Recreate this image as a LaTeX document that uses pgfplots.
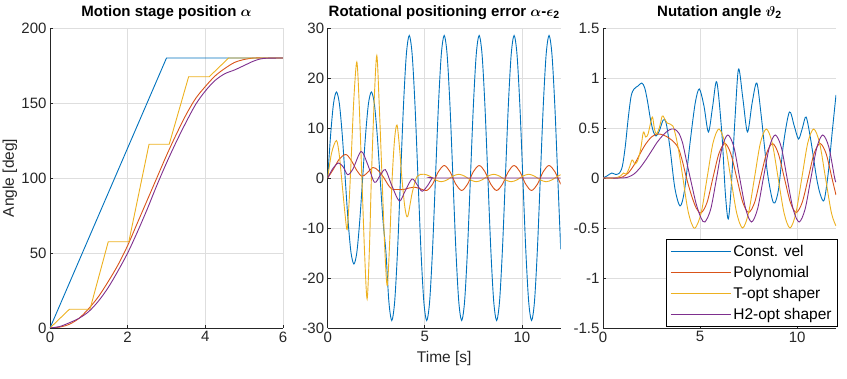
\documentclass[border=0pt]{standalone}
\usepackage{fontspec}
\setmainfont{Liberation Sans}
\usepackage{pgfplots}
\pgfplotsset{compat=1.18}

\definecolor{mlblue}{rgb}{0,0.447,0.741}
\definecolor{mlred}{rgb}{0.85,0.325,0.098}
\definecolor{mlyellow}{rgb}{0.929,0.694,0.125}
\definecolor{mlpurple}{rgb}{0.494,0.184,0.556}
\definecolor{axgray}{rgb}{0.15,0.15,0.15}
\definecolor{gridgray}{rgb}{0.87,0.87,0.87}

\pgfplotsset{
  matlabaxis/.style={
    scale only axis, width=233pt, height=300pt,
    axis x line*=bottom, axis y line*=left,
    axis line style={draw=axgray, line width=0.6pt},
    grid=major, major grid style={draw=gridgray, line width=0.6pt},
    tick align=inside, major tick length=3pt,
    tick style={draw=axgray, line width=0.6pt},
    tick label style={font=\fontsize{15}{18}\selectfont, text=axgray},
    /pgf/number format/assume math mode=true,
    title style={font=\fontsize{15}{18}\selectfont\bfseries, yshift=-1pt},
    xlabel style={font=\fontsize{15.5}{18}\selectfont, text=axgray},
    ylabel style={font=\fontsize{15.5}{18}\selectfont, text=axgray},
    every axis plot/.append style={line width=0.9pt},
  }
}

\begin{document}
\begin{tikzpicture}
% --- alpha
\begin{axis}[matlabaxis,
  title={Motion stage position {\boldmath$\alpha$}},
  xmin=0, xmax=6, ymin=0, ymax=200,
  xtick={0,2,4,6}, ytick={0,50,100,150,200},
  ylabel={Angle [deg]},
  ylabel style={at={(axis description cs:-0.172,0.5)}, anchor=center},
]
\addplot[color=mlblue] coordinates {(0,0) (3,180) (6,180)};
\addplot[color=mlred, smooth] coordinates {(0,0) (0.25,0.6) (0.5,2.5) (0.75,6.5) (1,13) (1.25,21) (1.5,31) (1.75,42) (2,55) (2.25,70) (2.5,85) (2.75,100) (3,115) (3.25,129) (3.5,142) (3.75,153) (4,161) (4.25,168) (4.5,173) (4.75,177) (5,179) (5.25,180) (5.5,180) (6,180)};
\addplot[color=mlyellow] coordinates {(0,0) (0.5,12.5) (1.03,12.5) (1.5,57.5) (2.03,57.5) (2.55,122.5) (3.07,122.5) (3.57,167.5) (4.1,167.5) (4.6,180) (6,180)};
\addplot[color=mlpurple, smooth] coordinates {(0,0) (0.25,1) (0.5,3.5) (0.75,6.5) (1,11) (1.25,18) (1.5,27) (1.75,38) (2,50) (2.25,64) (2.5,79) (2.75,95) (3,110) (3.25,124) (3.5,137) (3.75,149) (4,158) (4.25,165) (4.5,169.5) (4.75,172) (5,175) (5.25,178) (5.5,179.7) (6,180)};
\end{axis}

% --- alpha - epsilon
\begin{axis}[matlabaxis, at={(277.7pt,0pt)},
  title={Rotational positioning error {\boldmath$\alpha$}-{\boldmath$\epsilon$}\textsubscript{2}},
  xmin=0, xmax=12, ymin=-30, ymax=30,
  xtick={0,5,10}, ytick={-30,-20,-10,0,10,20,30},
  xlabel={Time [s]},
  xlabel style={at={(axis description cs:0.5,-0.1)}, anchor=center},
]
\addplot[color=mlblue, smooth] coordinates {(0,0) (0.15,8.6) (0.3,14.9) (0.45,17.2) (0.6,14.9) (0.75,8.6) (0.9,0) (1.05,-8.6) (1.2,-14.9) (1.35,-17.2) (1.5,-14.9) (1.65,-8.6) (1.8,0) (1.95,8.6) (2.1,14.9) (2.25,17.2) (2.4,14.9) (2.55,8.6) (2.7,0) (2.85,-8.6) (3.0,-14.9)
 (3.15,-24.7) (3.3,-28.5) (3.45,-24.7) (3.6,-14.25) (3.75,0) (3.9,14.25) (4.05,24.7) (4.2,28.5) (4.35,24.7) (4.5,14.25) (4.65,0) (4.8,-14.25) (4.95,-24.7)
 (5.1,-28.5) (5.25,-24.7) (5.4,-14.25) (5.55,0) (5.7,14.25) (5.85,24.7) (6.0,28.5) (6.15,24.7) (6.3,14.25) (6.45,0) (6.6,-14.25) (6.75,-24.7)
 (6.9,-28.5) (7.05,-24.7) (7.2,-14.25) (7.35,0) (7.5,14.25) (7.65,24.7) (7.8,28.5) (7.95,24.7) (8.1,14.25) (8.25,0) (8.4,-14.25) (8.55,-24.7)
 (8.7,-28.5) (8.85,-24.7) (9.0,-14.25) (9.15,0) (9.3,14.25) (9.45,24.7) (9.6,28.5) (9.75,24.7) (9.9,14.25) (10.05,0) (10.2,-14.25) (10.35,-24.7)
 (10.5,-28.5) (10.65,-24.7) (10.8,-14.25) (10.95,0) (11.1,14.25) (11.25,24.7) (11.4,28.5) (11.55,24.7) (11.7,14.25) (11.85,0) (12.0,-14.25)};
\addplot[color=mlred, smooth] coordinates {(0,0) (0.3,1.8) (0.6,3.8) (0.93,4.7) (1.2,3.6) (1.5,1.5) (1.76,0.35) (2.0,0.9) (2.33,2.1) (2.6,1.5) (2.9,0) (3.1,-1.3) (3.3,-2.2) (3.6,-2.3) (3.9,-2.3) (4.2,-2.0) (4.5,-1.85) (4.8,-2.2)
 (5.1,-2.5) (5.4,-1.25) (5.7,1.25) (6.0,2.5) (6.3,1.25) (6.6,-1.25) (6.9,-2.5) (7.2,-1.25) (7.5,1.25) (7.8,2.5) (8.1,1.25) (8.4,-1.25) (8.7,-2.5) (9.0,-1.25) (9.3,1.25) (9.6,2.5) (9.9,1.25) (10.2,-1.25) (10.5,-2.5) (10.8,-1.25) (11.1,1.25) (11.4,2.5) (11.7,1.25) (12.0,-1.25)};
\addplot[color=mlyellow, smooth] coordinates {(0,0) (0.2,5.0) (0.45,7.5) (0.6,4.5) (0.75,-1.5) (0.9,-7.5) (1.0,-10.3) (1.1,-5) (1.2,3) (1.35,16) (1.5,23.2) (1.62,15) (1.76,0) (1.9,-15) (2.03,-24.2) (2.15,-14) (2.25,0) (2.4,16) (2.53,24.5) (2.65,15) (2.8,0) (2.95,-15) (3.07,-21.5) (3.2,-12) (3.32,0) (3.45,8) (3.57,10.6) (3.7,6) (3.82,0) (3.98,-6) (4.12,-7.7) (4.35,-3.0) (4.6,0.3)
 (4.95,0.75) (5.25,0.375) (5.55,-0.375) (5.85,-0.75) (6.15,-0.375) (6.45,0.375) (6.75,0.75) (7.05,0.375) (7.35,-0.375) (7.65,-0.75) (7.95,-0.375) (8.25,0.375) (8.55,0.75) (8.85,0.375) (9.15,-0.375) (9.45,-0.75) (9.75,-0.375) (10.05,0.375) (10.35,0.75) (10.65,0.375) (10.95,-0.375) (11.25,-0.75) (11.55,-0.375) (11.85,0.375) (12.0,0.65)};
\addplot[color=mlpurple, smooth] coordinates {(0,0) (0.25,1.8) (0.55,3.0) (0.8,2.2) (1.03,0.66) (1.3,1.8) (1.72,5.3) (2.05,2.8) (2.41,-0.86) (2.7,0.5) (2.97,1.66) (3.3,-1.5) (3.69,-4.6) (4.0,-2.5) (4.34,-0.2) (4.6,-1.3) (4.86,-2.65) (5.15,-1.5) (5.4,0) (5.7,0) (12,0)};
\end{axis}

% --- nutation
\begin{axis}[matlabaxis, at={(553pt,0pt)},
  title={Nutation angle {\boldmath$\vartheta$}\textsubscript{2}},
  xmin=0, xmax=12, ymin=-1.5, ymax=1.5,
  xtick={0,5,10}, ytick={-1.5,-1,-0.5,0,0.5,1,1.5},
  legend style={at={(1.008,0.003)}, anchor=south east, draw=black, line width=0.6pt,
    font=\fontsize{15.5}{18}\selectfont, inner xsep=4pt, inner ysep=3.5pt,
    row sep=4.5pt},
  legend cell align=left,
  legend image code/.code={\draw[#1] (0pt,0pt) -- (60pt,0pt);},
]
\addplot[color=mlblue, smooth] coordinates {(0,0) (0.2,0.02) (0.45,0.05) (0.65,0.035) (0.85,0.05) (1.0,0.12) (1.15,0.32) (1.3,0.6) (1.45,0.82) (1.6,0.89) (1.8,0.92) (2.0,0.95) (2.15,0.9) (2.3,0.76) (2.45,0.58) (2.6,0.46) (2.73,0.42) (2.9,0.47) (3.1,0.58) (3.25,0.55) (3.45,0.3) (3.7,-0.1) (3.97,-0.28) (4.2,-0.12) (4.5,0.38) (4.75,0.75) (4.96,0.89) (5.2,0.72) (5.43,0.46) (5.65,0.72) (5.86,0.96) (6.12,0.45) (6.3,-0.15) (6.45,-0.41) (6.6,-0.1) (6.8,0.6) (6.98,1.09) (7.2,0.8) (7.44,0.46) (7.68,0.75) (7.92,0.95) (8.15,0.62) (8.45,0.08) (8.7,-0.2) (8.85,-0.25) (9.05,-0.1) (9.3,0.35) (9.6,0.66) (9.85,0.52) (10.07,0.39) (10.27,0.5) (10.46,0.61) (10.7,0.38) (11.0,0.0) (11.2,-0.17) (11.39,-0.22) (11.6,0.05) (11.8,0.45) (12.0,0.83)};
\addlegendentry{Const. vel}
\addplot[color=mlred, smooth] coordinates {(0,0) (0.8,0) (1.0,0.01) (1.3,0.05) (1.6,0.13) (1.9,0.24) (2.2,0.34) (2.5,0.41) (2.8,0.44) (3.1,0.43) (3.4,0.4) (3.7,0.35) (3.9,0.29) (4.1,0.16) (4.3,0.0) (4.55,-0.17) (4.8,-0.3) (5.05,-0.35) (5.36,-0.244) (5.66,0) (5.97,0.244) (6.28,0.345) (6.58,0.244) (6.89,0) (7.2,-0.244) (7.5,-0.345) (7.81,-0.244) (8.11,0) (8.42,0.244) (8.73,0.345) (9.03,0.244) (9.34,0) (9.65,-0.244) (9.95,-0.345) (10.26,-0.244) (10.57,0) (10.87,0.244) (11.18,0.345) (11.49,0.244) (11.79,0) (12,-0.17)};
\addlegendentry{Polynomial}
\addplot[color=mlyellow, smooth] coordinates {(0,0) (0.6,0) (0.9,0.02) (1.05,0.05) (1.2,0.04) (1.35,0.1) (1.5,0.18) (1.65,0.14) (1.8,0.18) (1.95,0.3) (2.08,0.46) (2.2,0.41) (2.32,0.44) (2.45,0.55) (2.55,0.61) (2.65,0.49) (2.75,0.44) (2.9,0.5) (3.05,0.62) (3.15,0.6) (3.3,0.55) (3.45,0.54) (3.6,0.52) (3.75,0.42) (3.9,0.27) (4.1,0.02) (4.35,-0.3) (4.55,-0.45) (4.75,-0.5) (5.055,-0.35) (5.36,0) (5.665,0.35) (5.97,0.49) (6.275,0.35) (6.58,0) (6.885,-0.35) (7.19,-0.5) (7.495,-0.35) (7.8,0) (8.105,0.35) (8.41,0.49) (8.715,0.35) (9.02,0) (9.325,-0.35) (9.63,-0.5) (9.935,-0.35) (10.24,0) (10.545,0.35) (10.85,0.49) (11.155,0.35) (11.46,0) (11.765,-0.35) (12,-0.48)};
\addlegendentry{T-opt shaper}
\addplot[color=mlpurple, smooth] coordinates {(0,0) (1.0,0) (1.3,0.01) (1.6,0.04) (1.9,0.1) (2.2,0.18) (2.5,0.27) (2.8,0.36) (3.1,0.43) (3.4,0.48) (3.66,0.49) (3.9,0.45) (4.1,0.35) (4.3,0.17) (4.55,-0.05) (4.8,-0.26) (5.05,-0.4) (5.25,-0.44) (5.55,-0.31) (5.85,0) (6.14,0.31) (6.43,0.43) (6.74,0.31) (7.04,0) (7.35,-0.31) (7.65,-0.44) (7.96,-0.31) (8.26,0) (8.57,0.31) (8.87,0.43) (9.18,0.31) (9.48,0) (9.79,-0.31) (10.1,-0.44) (10.41,-0.31) (10.71,0) (11.02,0.31) (11.32,0.43) (11.63,0.31) (11.93,0) (12,-0.04)};
\addlegendentry{H2-opt shaper}
\end{axis}
\pgfresetboundingbox
\path[use as bounding box] (-50pt,-51pt) rectangle (797pt,328pt);
\end{tikzpicture}
\end{document}
